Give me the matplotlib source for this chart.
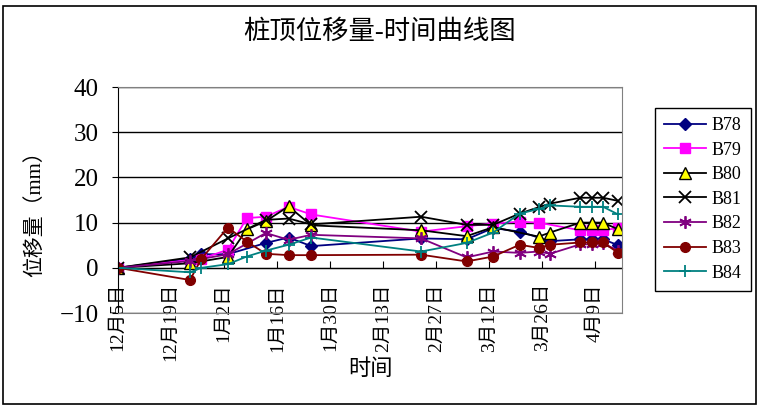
import datetime as dt
import matplotlib
matplotlib.use("Agg")
import matplotlib.pyplot as plt
import matplotlib.dates as mdates
from matplotlib.patches import Rectangle

plt.rcParams['font.family'] = ['Liberation Serif', 'Noto Sans CJK SC']

# observation dates (2007-12 .. 2008-04)
dates = ["2007-12-05", "2007-12-24", "2007-12-27", "2008-01-03", "2008-01-08", "2008-01-13",
         "2008-01-19", "2008-01-25", "2008-02-23", "2008-03-06", "2008-03-13", "2008-03-20",
         "2008-03-25", "2008-03-28", "2008-04-05", "2008-04-08", "2008-04-11", "2008-04-15"]

# displacement in mm, None = no reading for that pile on that day
B78 = [0, 2.0, 3.0, 3.0, None, 5.5, 6.7, 4.8, 6.5, 6.3, 8.8, 8.0, None, 5.9, 6.3, 6.3, 6.3, 5.0]
B79 = [0, None, 2.0, 4.0, 11.0, 11.3, 13.5, 11.8, 8.0, 9.2, 9.8, 10.2, 10.0, None, 8.3, 8.3, 8.3, 8.8]
B80 = [0, 1.0, None, 2.4, 8.5, 10.3, 13.6, 9.4, 8.3, 7.0, 9.0, None, 6.9, 7.8, 10.0, 10.0, 10.0, 8.5]
B81 = [0, 2.3, None, 6.5, None, 10.6, 10.9, 9.6, 11.3, 9.5, 9.5, 12.0, 13.4, 14.2, 15.5, 15.5, 15.5, 14.8]
B82 = [0, 1.5, None, 3.0, None, 7.7, 6.2, 7.3, 6.5, 2.3, 3.6, 3.3, 3.6, 3.1, 5.2, 5.2, 5.4, 3.8]
B83 = [0, -2.7, 2.0, 8.9, 5.8, 3.1, 2.8, 2.8, 2.9, 1.4, 2.5, 5.1, 4.4, 5.1, 5.6, 5.6, 5.6, 3.3]
B84 = [0, -1.0, 0.0, 0.8, 2.5, 3.8, 5.1, 6.7, 3.6, 5.5, 7.8, 12.0, 13.0, 13.8, 13.5, 13.5, 13.5, 11.8]

series = [("B78", B78), ("B79", B79), ("B80", B80), ("B81", B81),
          ("B82", B82), ("B83", B83), ("B84", B84)]
styles = {
    "B78": dict(color="#000080", marker="D", ms=6),
    "B79": dict(color="#FF00FF", marker="s", ms=7),
    "B80": dict(color="black", marker="^", ms=8, mfc="#FFFF00", mec="black"),
    "B81": dict(color="black", marker="x", ms=8, mew=1.3),
    "B82": dict(color="#800080", marker=(6, 2, 0), ms=9, mew=1.3),
    "B83": dict(color="#800000", marker="o", ms=7),
    "B84": dict(color="#008080", marker="+", ms=9, mew=1.3),
}

x_all = [mdates.date2num(dt.date.fromisoformat(d)) for d in dates]

fig = plt.figure(figsize=(7.6, 4.09), dpi=100)
ax = fig.add_axes([118/760, 1-313/409, (622-118)/760, (313-87)/409])

for name, vals in series:
    xs = [x for x, v in zip(x_all, vals) if v is not None]
    ys = [v for v in vals if v is not None]
    ax.plot(xs, ys, lw=1.3, label=name, **styles[name])

start = mdates.date2num(dt.date(2007, 12, 5))
ax.set_xlim(start, mdates.date2num(dt.date(2008, 4, 16)))
ax.set_ylim(-10, 40)
ax.set_yticks([-10, 0, 10, 20, 30, 40])
ax.grid(axis='y', color='black', lw=1)
ax.set_axisbelow(True)
ax.tick_params(axis='x', bottom=False, labelbottom=False)
ax.tick_params(axis='y', direction='out', length=4, pad=10, labelsize=18)
for s in ['top', 'right', 'bottom']:
    ax.spines[s].set_color('#808080')
ax.spines['left'].set_color('black')

# category axis sits on y = 0
tick_days = [dt.date(2007, 12, 5) + dt.timedelta(days=14*i) for i in range(10)]
sec = ax.secondary_xaxis(0.2)
sec.set_xticks([mdates.date2num(d) for d in tick_days])
sec.set_xticklabels([f"{d.month}月{d.day}日" for d in tick_days])
sec.tick_params(direction='in', length=5, pad=11, labelsize=14, labelrotation=90)
sec.spines['bottom'].set_color('black')

ax.legend(loc='upper left', bbox_to_anchor=(655/760, 1-108/409), bbox_transform=fig.transFigure,
          fancybox=False, edgecolor='black', framealpha=1, fontsize=13,
          handlelength=2.3, handletextpad=0.35, labelspacing=0.42, borderpad=0.5,
          borderaxespad=0)

fig.text(0.5, 1-32/409, "桩顶位移量-时间曲线图", ha='center', va='center', fontsize=19)
fig.text(35/760, 1-209/409, "位移量（mm）", rotation=90, ha='center', va='center', fontsize=15)
fig.text(370/760, 1-370/409, "时间", ha='center', va='center', fontsize=16)

fig.add_artist(Rectangle((3/760, 5/409), 753/760, 398/409, transform=fig.transFigure,
                         fill=False, edgecolor='black', lw=1.2))

plt.savefig('out.png', dpi=100)
